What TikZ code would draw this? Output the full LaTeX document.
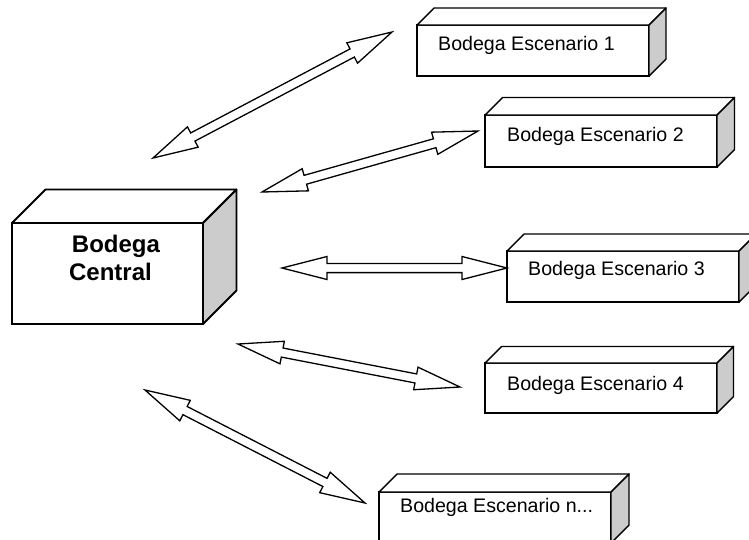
\documentclass[tikz,border=0pt]{standalone}
\usepackage{fontspec}
\setmainfont{Liberation Sans}
\usetikzlibrary{calc}
\newlength\ahl \setlength\ahl{45pt}
\newlength\ahw \setlength\ahw{11.5pt}
\newlength\asw \setlength\asw{4.6pt}
\newcommand\cubefaces[2]{%
  \draw[topface] (#1.north west) -- ++(#2,-#2) -- ($(#1.north east)+(#2,-#2)$) -- (#1.north east) -- cycle;
  \draw[sideface] (#1.north east) -- ++(#2,-#2) -- ($(#1.south east)+(#2,-#2)$) -- (#1.south east) -- cycle;
}
\tikzset{
  frontface/.style={draw, line width=1.4pt, fill=white, minimum width=232pt, minimum height=51pt, inner sep=0pt, outer sep=0pt},
  sideface/.style={draw, line width=1.4pt, fill=black!20, line join=round},
  topface/.style={draw, line width=1.4pt, fill=white, line join=round},
  lbl/.style={anchor=base west, inner sep=0pt, font=\fontsize{19.6}{23}\selectfont},
  biglbl/.style={anchor=base, inner sep=0pt, font=\bfseries\fontsize{24}{28}\selectfont},
  dblarrow/.style={draw, line width=1.3pt, fill=white, line join=miter,
    to path={
      -- ($(\tikztostart)!\ahl!(\tikztotarget)!\ahw!90:(\tikztotarget)$)
      -- ($(\tikztostart)!\ahl!(\tikztotarget)!\asw!90:(\tikztotarget)$)
      -- ($(\tikztotarget)!\ahl!(\tikztostart)!\asw!-90:(\tikztostart)$)
      -- ($(\tikztotarget)!\ahl!(\tikztostart)!\ahw!-90:(\tikztostart)$)
      -- (\tikztotarget)
      -- ($(\tikztotarget)!\ahl!(\tikztostart)!\ahw!90:(\tikztostart)$)
      -- ($(\tikztotarget)!\ahl!(\tikztostart)!\asw!90:(\tikztostart)$)
      -- ($(\tikztostart)!\ahl!(\tikztotarget)!\asw!-90:(\tikztotarget)$)
      -- ($(\tikztostart)!\ahl!(\tikztotarget)!\ahw!-90:(\tikztotarget)$)
      -- cycle}},
}
\begin{document}
\begin{tikzpicture}[x=1pt,y=-1pt]
\useasboundingbox (0,0) rectangle (749,539);
\clip (0,0) rectangle (749,539);
% central box
\node[frontface, line width=1.8pt, minimum width=191pt, minimum height=101pt] (c) at (107.5,273.5) {};
\draw[topface, line width=1.8pt] (c.north west) -- ++(33.5,-33.5) -- ($(c.north east)+(33.5,-33.5)$) -- (c.north east) -- cycle;
\draw[sideface, line width=1.8pt] (c.north east) -- ++(33.5,-33.5) -- ($(c.south east)+(33.5,-33.5)$) -- (c.south east) -- cycle;
\node[biglbl] (c1) at (116,252) {Bodega};
\node[biglbl] (c2) at (110.5,280) {Central};
% boxes
\node[frontface] (b1) at (533,50.5) {};
\cubefaces{b1}{17}
\node[lbl] (t1) at ($(b1.north west)+(21,25)$) {Bodega Escenario 1};
\node[frontface, minimum height=52pt] (b2) at (601,141) {};
\cubefaces{b2}{17.5}
\node[lbl] (t2) at ($(b2.north west)+(22,26)$) {Bodega Escenario 2};
\node[frontface] (b3) at (623,276.5) {};
\cubefaces{b3}{17}
\node[lbl] (t3) at ($(b3.north west)+(21,24)$) {Bodega Escenario 3};
\node[frontface, minimum height=50pt] (b4) at (601,388) {};
\cubefaces{b4}{16.5}
\node[lbl] (t4) at ($(b4.north west)+(22,27)$) {Bodega Escenario 4};
\node[frontface] (b5) at (495,517.5) {};
\cubefaces{b5}{18}
\node[lbl] (t5) at ($(b5.north west)+(21,20)$) {Bodega Escenario n...};
% arrow end points
\coordinate (a1s) at (153,158); \coordinate (a1e) at (392,32);
\coordinate (a2s) at (262,192); \coordinate (a2e) at (478,131);
\coordinate (a3s) at (282,268); \coordinate (a3e) at (507,268);
\coordinate (a4s) at (238,344); \coordinate (a4e) at (460,387);
\coordinate (a5s) at (145,390); \coordinate (a5e) at (365,503);
\draw[dblarrow] (a1s) to (a1e);
\draw[dblarrow] (a2s) to (a2e);
\draw[dblarrow] (a3s) to (a3e);
\draw[dblarrow] (a4s) to (a4e);
\draw[dblarrow] (a5s) to (a5e);
\end{tikzpicture}
\end{document}
